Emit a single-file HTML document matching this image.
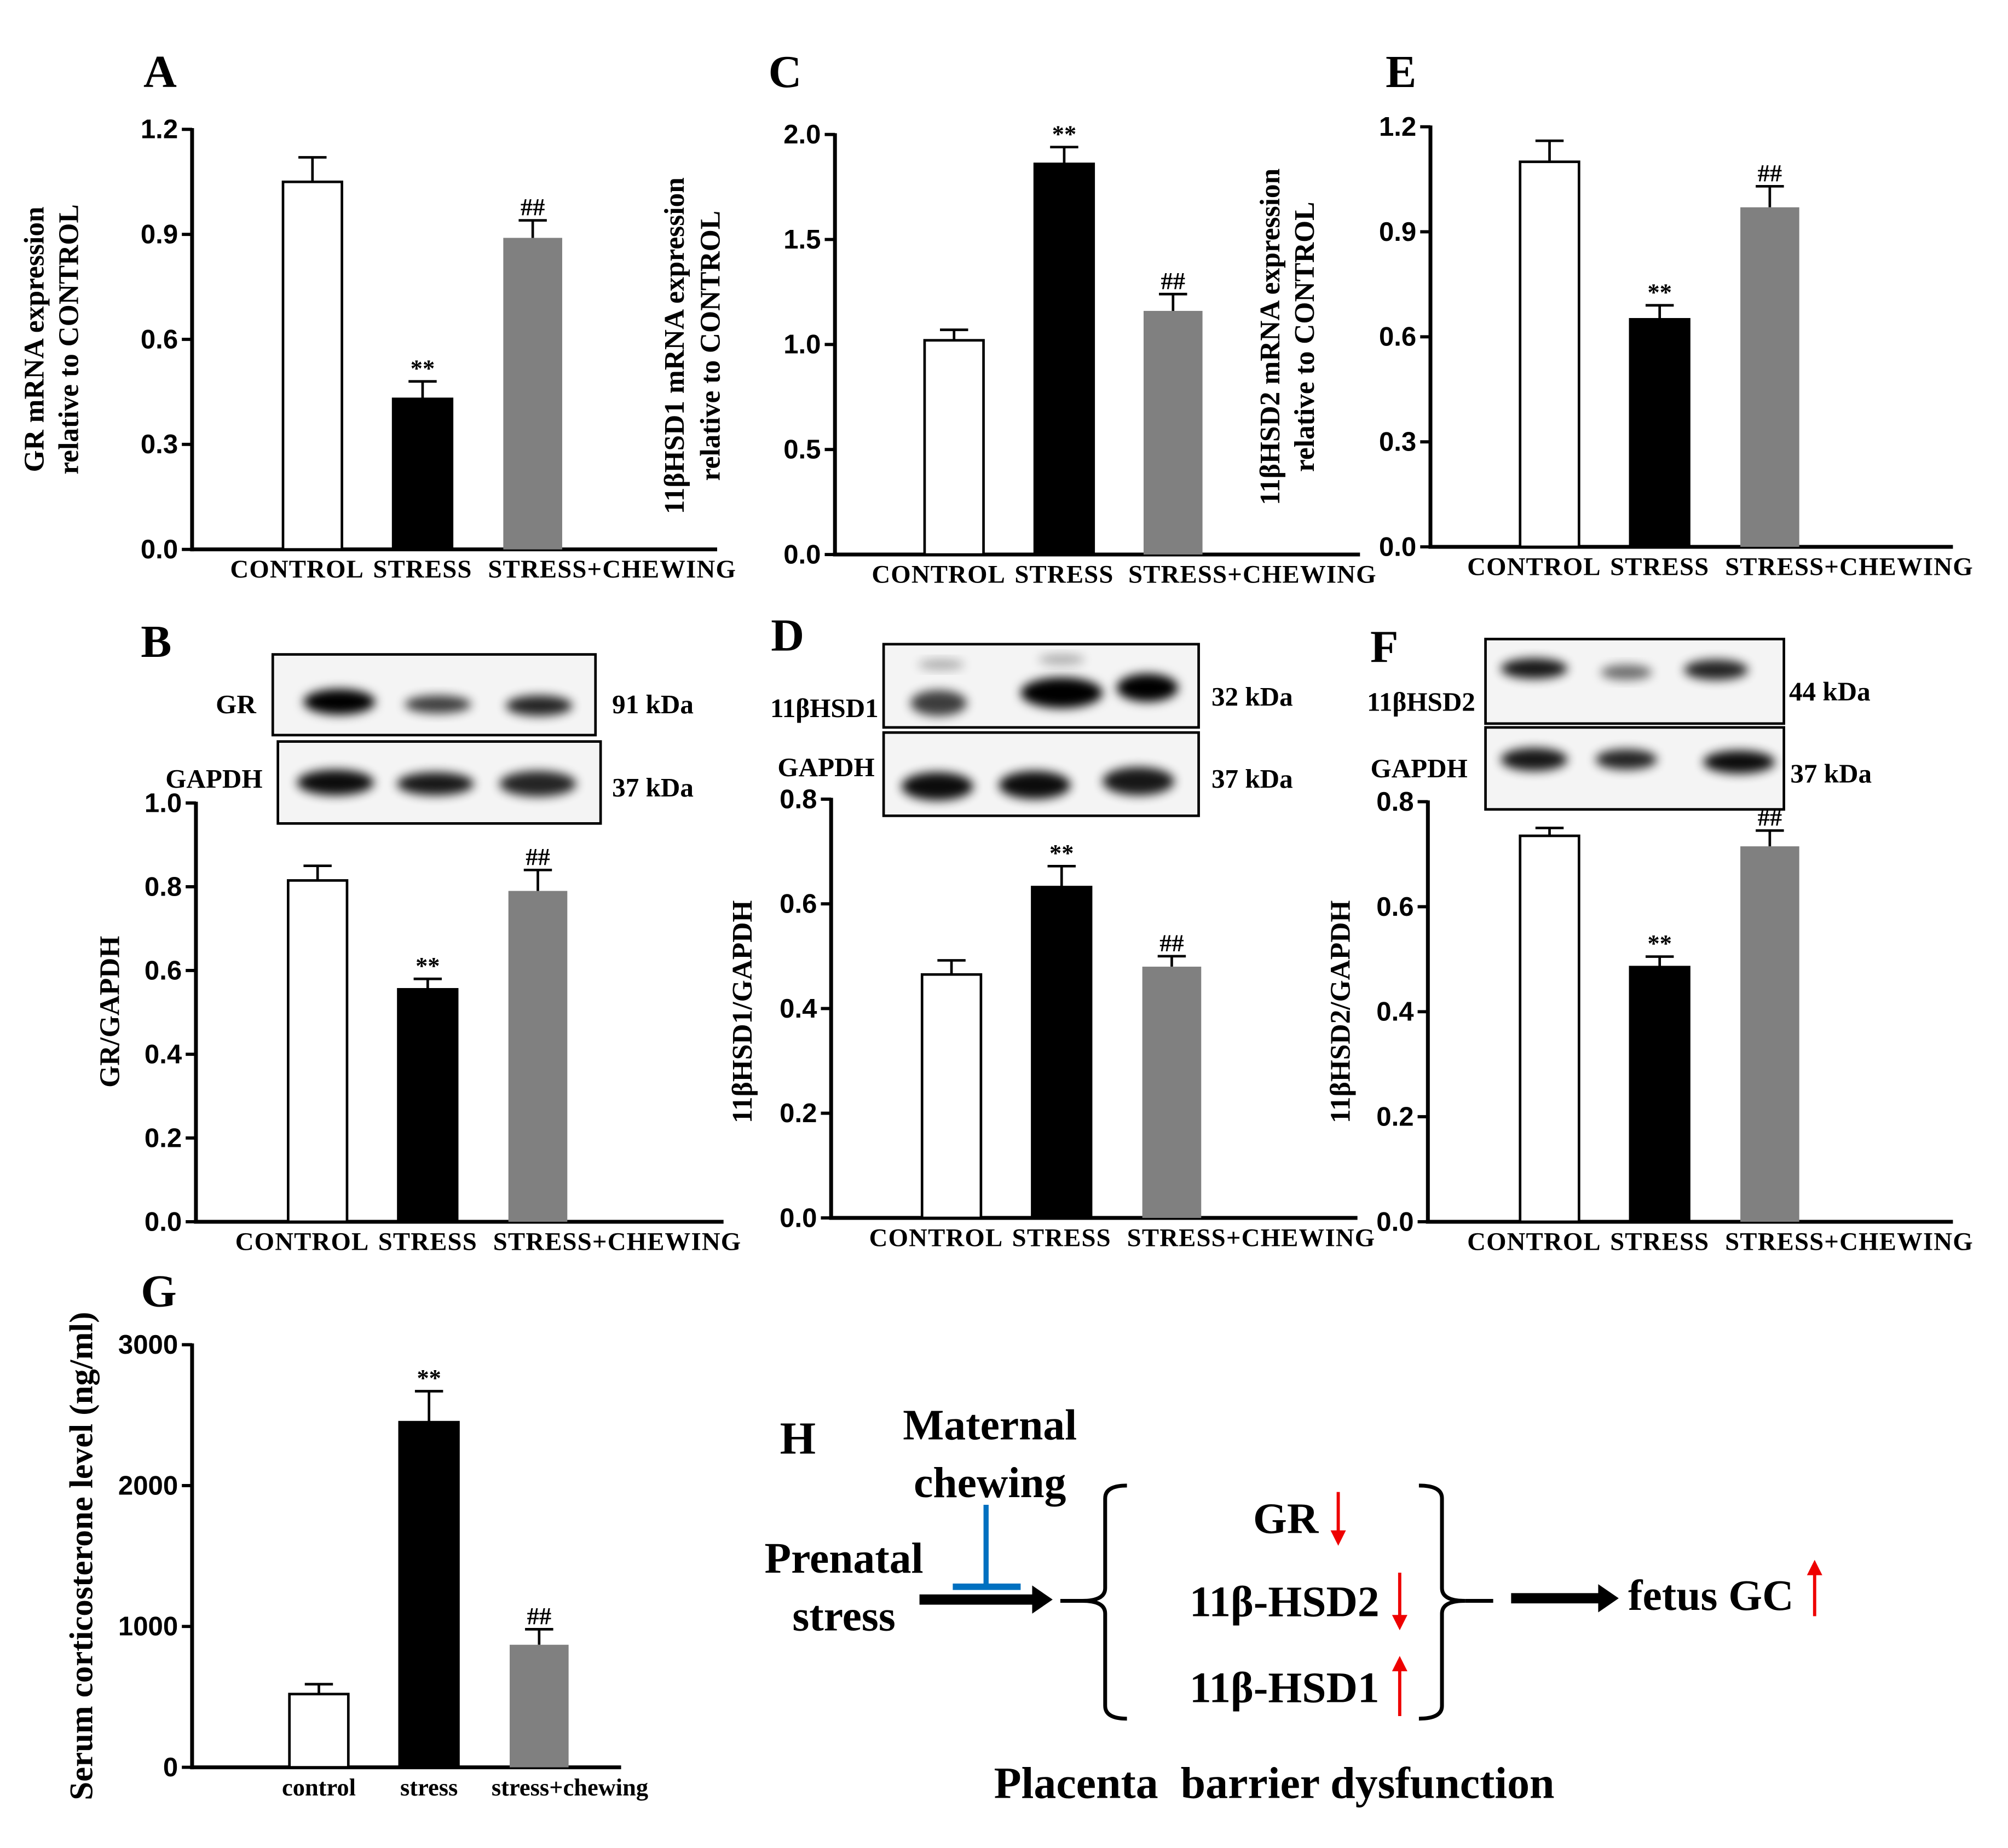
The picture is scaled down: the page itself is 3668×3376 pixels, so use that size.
<!DOCTYPE html>
<html><head><meta charset="utf-8"><style>
html,body{margin:0;padding:0;background:#fff;}
svg{display:block;}
.tk{font-family:"Liberation Sans",sans-serif;font-weight:bold;font-size:21px;}
.sf{font-family:"Liberation Serif",serif;font-weight:bold;}
</style></head><body>
<svg id="fig" width="3668" height="3376" viewBox="0 0 1568 1443" preserveAspectRatio="none" xmlns="http://www.w3.org/2000/svg">
<defs><filter id="blur" x="-50%" y="-50%" width="200%" height="200%"><feGaussianBlur stdDeviation="4"/></filter></defs>
</svg>
<script>
const groupsUpper=["CONTROL","STRESS","STRESS+CHEWING"];
const groupsLower=["control","stress","stress+chewing"];
const colors=["#ffffff","#000000","#808080"];
// panel A
const aVals=[1.05,0.43,0.89], aErr=[0.07,0.05,0.05], aTicks=[0,0.3,0.6,0.9,1.2], aMarks=["","**","##"];
// panel C
const cVals=[1.02,1.86,1.16], cErr=[0.05,0.08,0.08], cTicks=[0,0.5,1.0,1.5,2.0], cMarks=["","**","##"];
// panel E
const eVals=[1.10,0.65,0.97], eErr=[0.06,0.04,0.06], eTicks=[0,0.3,0.6,0.9,1.2], eMarks=["","**","##"];
// panel B
const bVals=[0.815,0.555,0.79], bErr=[0.035,0.025,0.05], bTicks=[0,0.2,0.4,0.6,0.8,1.0], bMarks=["","**","##"];
// panel D
const dVals=[0.465,0.632,0.48], dErr=[0.027,0.04,0.02], dTicks=[0,0.2,0.4,0.6,0.8], dMarks=["","**","##"];
// panel F
const fVals=[0.735,0.485,0.715], fErr=[0.015,0.02,0.03], fTicks=[0,0.2,0.4,0.6,0.8], fMarks=["","**","##"];
// panel G
const gVals=[520,2450,870], gErr=[70,220,110], gTicks=[0,1000,2000,3000], gMarks=["","**","##"];

const svg=document.getElementById('fig');
const NS="http://www.w3.org/2000/svg";
function mk(tag,attrs,parent,name,text){
  const e=document.createElementNS(NS,tag);
  for(const k in attrs)e.setAttribute(k,attrs[k]);
  
  
  if(text!==undefined)e.textContent=text;
  (parent||svg).appendChild(e);return e;
}
function fmt(v,ticks){const m=Math.max(...ticks);return m>=100?String(v):v.toFixed(1);}
function chart(p){
  const g=mk('g',{},svg,p.name);
  const y=v=>p.y0-(v/p.max)*(p.y0-p.y1);
  mk('line',{x1:p.ax,y1:p.y1-1,x2:p.ax,y2:p.y0+1.5,stroke:'#000','stroke-width':3},g,'y-axis');
  mk('line',{x1:p.ax-1.5,y1:p.y0,x2:p.xend,y2:p.y0,stroke:'#000','stroke-width':3},g,'x-axis');
  p.ticks.forEach(t=>{
    mk('line',{x1:p.ax-8,y1:y(t),x2:p.ax,y2:y(t),stroke:'#000','stroke-width':2.5},g,'y-tick');
    mk('text',{x:p.ax-11,y:y(t)+7,'text-anchor':'end',class:'tk'},g,'y-tick-label',fmt(t,p.ticks));
  });
  const offU=[-12,0,62], offL=[0,0,24];
  p.vals.forEach((v,i)=>{
    const x=p.bx[i],w=46,top=y(v),et=y(v+p.err[i]);
    const cx=x+w/2;
    mk('line',{x1:cx,y1:top,x2:cx,y2:et,stroke:'#000','stroke-width':2},g,'error-bar');
    mk('line',{x1:cx-11,y1:et,x2:cx+11,y2:et,stroke:'#000','stroke-width':2},g,'error-cap');
    mk('rect',{x:x,y:top,width:w,height:p.y0-top,fill:colors[i],stroke:i===2?'none':'#000','stroke-width':2},g,'bar-'+p.cats[i].toLowerCase());
    if(p.marks[i])mk('text',{x:cx,y:et-4,'text-anchor':'middle',class:'sf','font-size':19},g,'significance-mark',p.marks[i]);
    mk('text',{x:cx+(p.lower?offL[i]:offU[i]),y:p.y0+22,'text-anchor':'middle',class:'sf','font-size':p.lower?19:20,'letter-spacing':p.lower?0:0.5},g,'x-tick-label',p.cats[i]);
  });
  p.title.forEach((t,k)=>{
    const tx=p.tx[k];
    mk('text',{x:tx,y:p.tcy,'text-anchor':'middle',class:'sf','font-size':p.tfs||22,transform:`rotate(-90 ${tx} ${p.tcy})`},g,'y-axis-title',t);
  });
}
chart({name:'panel-a',ax:150,y0:429,y1:101,xend:560,max:1.2,ticks:aTicks,vals:aVals,err:aErr,marks:aMarks,bx:[221,307,393],cats:groupsUpper,title:["GR mRNA expression","relative to CONTROL"],tx:[34,61],tcy:265});
chart({name:'panel-c',ax:652,y0:433,y1:105,xend:1062,max:2.0,ticks:cTicks,vals:cVals,err:cErr,marks:cMarks,bx:[722,808,893],cats:groupsUpper,title:["11βHSD1 mRNA expression","relative to CONTROL"],tx:[534,562],tcy:270});
chart({name:'panel-e',ax:1117,y0:427,y1:99,xend:1525,max:1.2,ticks:eTicks,vals:eVals,err:eErr,marks:eMarks,bx:[1187,1273,1359],cats:groupsUpper,title:["11βHSD2 mRNA expression","relative to CONTROL"],tx:[999,1026],tcy:263});
chart({name:'panel-b',ax:153,y0:954,y1:627,xend:565,max:1.0,ticks:bTicks,vals:bVals,err:bErr,marks:bMarks,bx:[225,311,397],cats:groupsUpper,title:["GR/GAPDH"],tx:[93],tcy:790});
chart({name:'panel-d',ax:649,y0:951,y1:624,xend:1060,max:0.8,ticks:dTicks,vals:dVals,err:dErr,marks:dMarks,bx:[720,806,892],cats:groupsUpper,title:["11βHSD1/GAPDH"],tx:[587],tcy:790});
chart({name:'panel-f',ax:1115,y0:954,y1:626,xend:1525,max:0.8,ticks:fTicks,vals:fVals,err:fErr,marks:fMarks,bx:[1187,1273,1359],cats:groupsUpper,title:["11βHSD2/GAPDH"],tx:[1054],tcy:790});
chart({name:'panel-g',ax:150,y0:1380,y1:1050,xend:485,max:3000,ticks:gTicks,vals:gVals,err:gErr,marks:gMarks,bx:[226,312,398],cats:groupsLower,lower:true,title:["Serum corticosterone level (ng/ml)"],tx:[72],tcy:1215,tfs:26});

// panel letters
[["A",112,68],["C",600,68],["E",1082,68],["B",110,513],["D",602,508],["F",1070,517],["G",110,1020],["H",609,1135]].forEach(l=>{
  mk('text',{x:l[1],y:l[2],class:'sf','font-size':36},svg,'panel-label-'+l[0].toLowerCase(),l[0]);
});

// blots
function blot(name,x,y,w,h,bands){
  const g=mk('g',{},svg,name);
  mk('rect',{x:x,y:y,width:w,height:h,fill:'#f4f4f4',stroke:'#000','stroke-width':2},g,'blot-frame');
  bands.forEach(b=>{
    mk('ellipse',{cx:b[0],cy:b[1],rx:b[2],ry:b[3],fill:'#000',opacity:b[4],filter:'url(#blur)'},g,'blot-band');
  });
}
blot('gr-blot',213,511,252,63,[[265,548,28,10,1],[342,550,26,7,0.75],[421,551,26,8,0.85]]);
blot('gapdh-blot-b',217,579,252,64,[[262,611,30,10,0.95],[340,612,30,9,0.9],[420,612,30,10,0.85]]);
blot('hsd1-blot',690,503,246,65,[[733,549,22,10,0.75],[735,519,18,4,0.3],[829,541,32,12,1],[829,515,18,4,0.3],[896,537,24,11,1]]);
blot('gapdh-blot-d',690,572,246,65,[[732,614,28,11,0.95],[808,613,28,11,0.95],[889,610,28,11,0.9]]);
blot('hsd2-blot',1160,499,233,66,[[1198,522,26,8,0.9],[1270,525,20,6,0.55],[1340,523,25,8,0.85]]);
blot('gapdh-blot-f',1160,568,233,64,[[1198,593,26,9,0.9],[1270,593,24,8,0.85],[1358,595,28,9,0.95]]);

[["GR",200,557,'end',"gr-label"],["91 kDa",478,557,'start',"kda-91"],["GAPDH",205,615,'end',"gapdh-label-b"],["37 kDa",478,622,'start',"kda-37-b"],
 ["11βHSD1",686,560,'end',"hsd1-label"],["32 kDa",946,551,'start',"kda-32"],["GAPDH",683,606,'end',"gapdh-label-d"],["37 kDa",946,615,'start',"kda-37-d"],
 ["11βHSD2",1152,555,'end',"hsd2-label"],["44 kDa",1397,547,'start',"kda-44"],["GAPDH",1146,607,'end',"gapdh-label-f"],["37 kDa",1398,611,'start',"kda-37-f"]].forEach(t=>{
  mk('text',{x:t[1],y:t[2],'text-anchor':t[3],class:'sf','font-size':21},svg,t[4],t[0]);
});

// panel H diagram
const h=mk('g',{},svg,'panel-h-diagram');
function T(txt,x,y,fs,name,anchor){mk('text',{x:x,y:y,'text-anchor':anchor||'middle',class:'sf','font-size':fs},h,name,txt);}
T("Maternal",773,1124,34,'maternal-text');T("chewing",773,1169,34,'chewing-text');
T("Prenatal",659,1228,34,'prenatal-text');T("stress",659,1273,34,'stress-text');
mk('line',{x1:770,y1:1175,x2:770,y2:1238,stroke:'#0070c0','stroke-width':4},h,'inhibit-line');
mk('line',{x1:744,y1:1239,x2:797,y2:1239,stroke:'#0070c0','stroke-width':5},h,'inhibit-bar');
function arrow(x1,x2,yy,name){mk('line',{x1:x1,y1:yy,x2:x2-14,y2:yy,stroke:'#000','stroke-width':8},h,name);
  mk('polygon',{points:`${x2-16},${yy-11} ${x2},${yy} ${x2-16},${yy+11}`,fill:'#000'},h,name+'-head');}
arrow(718,822,1249,'stress-arrow');arrow(1180,1264,1248,'gc-arrow');
mk('path',{d:'M 880 1160 Q 863 1160 863 1170 L 863 1240 Q 863 1250 845 1250 Q 863 1250 863 1260 L 863 1332 Q 863 1342 880 1342',fill:'none',stroke:'#000','stroke-width':3},h,'left-brace');
mk('line',{x1:828,y1:1250,x2:846,y2:1250,stroke:'#000','stroke-width':3},h,'left-brace-tip');
mk('path',{d:'M 1108 1160 Q 1126 1160 1126 1170 L 1126 1240 Q 1126 1250 1144 1250 Q 1126 1250 1126 1260 L 1126 1332 Q 1126 1342 1108 1342',fill:'none',stroke:'#000','stroke-width':3},h,'right-brace');
mk('line',{x1:1144,y1:1250,x2:1166,y2:1250,stroke:'#000','stroke-width':3},h,'right-brace-tip');
T("GR",1004,1197,34,'gr-text');T("11β-HSD2",1003,1262,34,'hsd2-text');T("11β-HSD1",1003,1329,34,'hsd1-text');
T("fetus GC",1336,1257,34,'fetus-gc-text');
T("Placenta\u00a0\u00a0barrier dysfunction",995,1404,35,'placenta-caption');
function red(x,ya,yb,name){const up=yb<ya;mk('line',{x1:x,y1:ya,x2:x,y2:yb+(up?8:-8),stroke:'#e00','stroke-width':2.5},h,name);
  mk('polygon',{points:`${x-6},${yb+(up?12:-12)} ${x},${yb} ${x+6},${yb+(up?12:-12)}`,fill:'#e00'},h,name+'-head');}
red(1045,1165,1207,'gr-down-arrow');red(1093,1228,1273,'hsd2-down-arrow');red(1093,1340,1293,'hsd1-up-arrow');red(1417,1262,1218,'gc-up-arrow');
</script>
</body></html>
